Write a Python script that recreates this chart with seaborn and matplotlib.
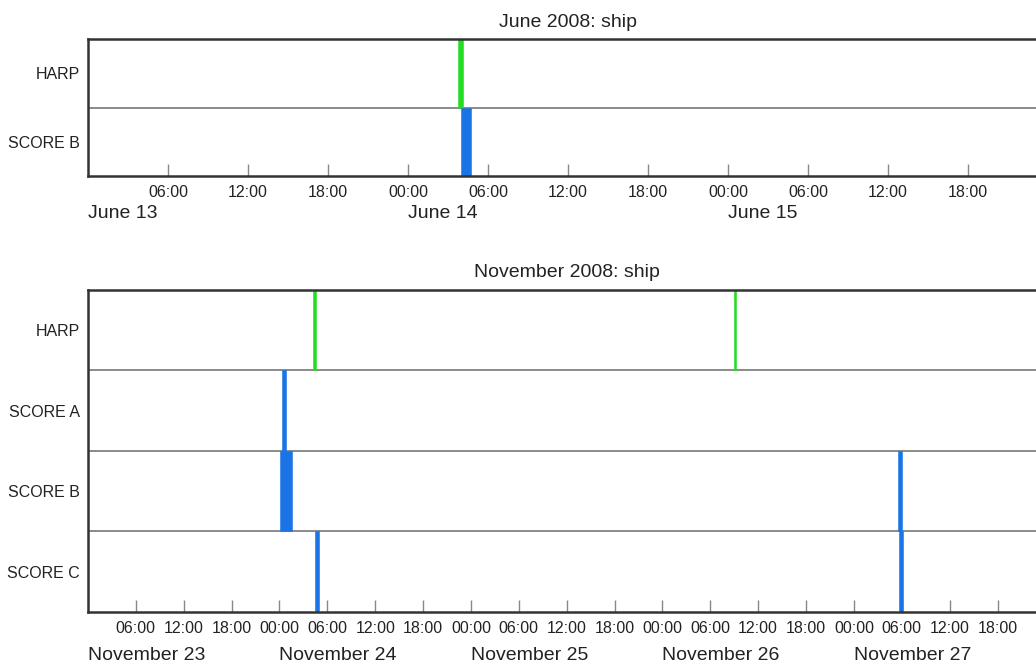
import pandas as pd
import matplotlib
matplotlib.use("Agg")
import matplotlib.pyplot as plt
import matplotlib.dates as mdates
import seaborn as sns

# Datos: filas (instrumentos) y eventos (inicio, fin) por panel
june_title = "June 2008: ship"
june_rows = ["HARP", "SCORE B"]
june_start = "2008-06-13 00:00"
june_end = "2008-06-16 00:00"
june_days = ["June 13", "June 14", "June 15"]
june_harp = [("2008-06-14 03:45", "2008-06-14 04:09")]
june_score_b = [("2008-06-14 04:01", "2008-06-14 04:43")]

nov_title = "November 2008: ship"
nov_rows = ["HARP", "SCORE A", "SCORE B", "SCORE C"]
nov_start = "2008-11-23 00:00"
nov_end = "2008-11-28 00:00"
nov_days = ["November 23", "November 24", "November 25", "November 26", "November 27"]
nov_harp = [("2008-11-24 04:10", "2008-11-24 04:32"), ("2008-11-26 09:00", "2008-11-26 09:14")]
nov_score_a = [("2008-11-24 00:18", "2008-11-24 00:48")]
nov_score_b = [("2008-11-24 00:05", "2008-11-24 01:33"), ("2008-11-27 05:34", "2008-11-27 06:00")]
nov_score_c = [("2008-11-24 04:25", "2008-11-24 04:55"), ("2008-11-27 05:42", "2008-11-27 06:06")]

GREEN = "#22dd22"
BLUE = "#1a74e6"

sns.set_theme(style="white")
plt.rcParams["font.family"] = ["Liberation Sans", "DejaVu Sans"]


def panel(ax, title, rows, events, colors, start, end, days, day_offset):
    for i, (evs, col) in enumerate(zip(events, colors)):
        for a, b in evs:
            a = mdates.date2num(pd.Timestamp(a))
            b = mdates.date2num(pd.Timestamp(b))
            ax.barh(i, b - a, left=a, height=1.0, color=col, edgecolor=col, linewidth=0.4)
    for i in range(len(rows) - 1):
        ax.axhline(i + 0.5, color="#8a8a8a", linewidth=1.4, zorder=0)

    ax.set_xlim(pd.Timestamp(start), pd.Timestamp(end))
    ax.set_ylim(len(rows) - 0.5, -0.5)
    ax.set_yticks(range(len(rows)))
    ax.set_yticklabels(rows, fontsize=11.5, color="#222222")
    ax.tick_params(axis="y", left=False, length=0, pad=6)

    ticks = pd.date_range(start, end, freq="6h")[1:-1]
    ax.set_xticks(ticks)
    ax.xaxis.set_major_formatter(mdates.DateFormatter("%H:%M"))
    ax.tick_params(axis="x", bottom=True, direction="in", length=9, width=1, color="#888888",
                   labelsize=11.5, labelcolor="#222222", pad=6.5)

    for s in ["left", "top", "bottom", "right"]:
        ax.spines[s].set_color("#333333")
        ax.spines[s].set_linewidth(1.8)

    for d, lab in zip(pd.date_range(start, periods=len(days), freq="D"), days):
        ax.annotate(lab, xy=(mdates.date2num(d), 0), xycoords=("data", "axes fraction"),
                    xytext=(0, day_offset), textcoords="offset points",
                    ha="left", va="top", fontsize=14, color="#222222")

    ax.set_title(title, fontsize=14, color="#222222", pad=9)


fig = plt.figure(figsize=(10.36, 6.67), dpi=100)
ax1 = fig.add_axes([0.0849, 0.7361, 0.9266, 0.2054])
ax2 = fig.add_axes([0.0849, 0.0825, 0.9242, 0.4828])

panel(ax1, june_title, june_rows, [june_harp, june_score_b], [GREEN, BLUE],
      june_start, june_end, june_days, -21)
panel(ax2, nov_title, nov_rows, [nov_harp, nov_score_a, nov_score_b, nov_score_c],
      [GREEN, BLUE, BLUE, BLUE], nov_start, nov_end, nov_days, -25)

fig.savefig("out.png", dpi=100)
